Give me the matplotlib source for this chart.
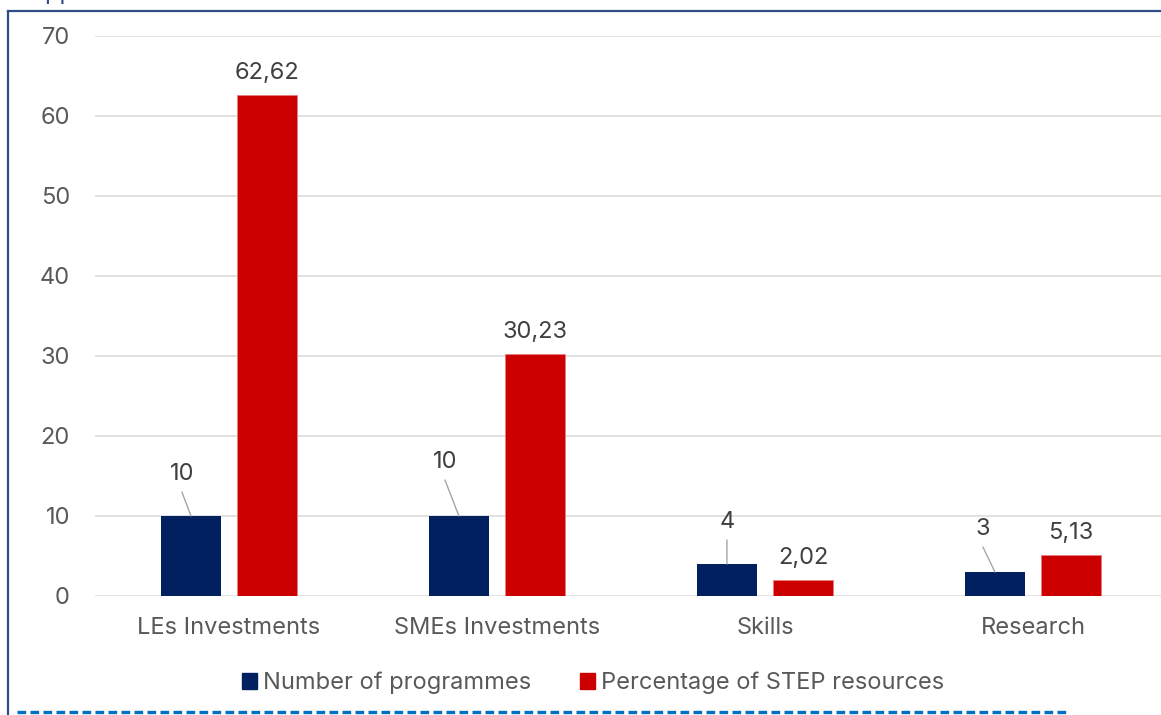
import matplotlib.pyplot as plt
import numpy as np
from matplotlib.patches import Rectangle
from matplotlib.lines import Line2D

# dati
categories = ["LEs Investments", "SMEs Investments", "Skills", "Research"]
programmes = [10, 10, 4, 3]
step_share = [62.62, 30.23, 2.02, 5.13]
series_names = ["Number of programmes", "Percentage of STEP resources"]

navy = "#002060"
red = "#CC0000"
grey_txt = "#595959"

plt.rcParams['font.family'] = ['Inter', 'DejaVu Sans']
fs = 17

fig = plt.figure(figsize=(11.61, 7.15), dpi=100)
W, H = 1161, 715
ax = fig.add_axes([95 / W, (H - 596) / H, 1072 / W, 560 / H])

x = np.arange(len(categories))
bw = 0.224
off = 0.142
b1 = ax.bar(x - off, programmes, bw, color=navy, zorder=3)
b2 = ax.bar(x + off, step_share, bw, color=red, edgecolor="#E88080", linewidth=0.6, zorder=3)

ax.set_xlim(-0.5, 3.5)
ax.set_ylim(0, 70)
ax.set_yticks(range(0, 71, 10))
ax.set_xticks(x)
ax.set_xticklabels(categories)
ax.tick_params(axis='both', length=0, labelsize=fs, labelcolor=grey_txt)
ax.tick_params(axis='y', pad=18)
ax.tick_params(axis='x', pad=15)
ax.grid(axis='y', color="#D9D9D9", linewidth=1.1, zorder=0)
for s in ax.spines.values():
    s.set_visible(False)
ax.set_axisbelow(True)

px = 72 / 100  # pixel -> punti

# etichette serie blu con linee guida
lab_off = [(-9, 31), (-14, 43), (0, 31), (-12, 32)]
for i, v in enumerate(programmes):
    dx, dy = lab_off[i]
    ax.annotate(str(v), (x[i] - off, v), xytext=(dx * px, dy * px), textcoords='offset points',
                ha='center', va='bottom', fontsize=fs, color="#404040", zorder=5)
    ax.annotate("", (x[i] - off, v), xytext=(dx * px, (dy - 7) * px), textcoords='offset points',
                arrowprops=dict(arrowstyle='-', color="#A6A6A6", lw=1.0, shrinkA=0, shrinkB=0))

# etichette serie rossa
for i, v in enumerate(step_share):
    ax.annotate(f"{v:.2f}".replace(".", ","), (x[i] + off, v), xytext=(0, 11 * px),
                textcoords='offset points', ha='center', va='bottom', fontsize=fs,
                color="#404040", zorder=5)

# legenda
handles = [Rectangle((0, 0), 1, 1, color=navy), Rectangle((0, 0), 1, 1, color=red)]
fig.legend(handles, series_names, loc='center', bbox_to_anchor=(593 / W, (H - 683) / H),
           ncol=2, frameon=False, fontsize=fs, labelcolor=grey_txt,
           handlelength=0.62, handleheight=0.62, handletextpad=0.25, columnspacing=2.1)

# cornice e linea tratteggiata
fig.add_artist(Line2D([8 / W, 8 / W], [0, (H - 11) / H], color="#2F4C86", lw=1.6))
fig.add_artist(Line2D([8 / W, 1.0], [(H - 11) / H, (H - 11) / H], color="#2F4C86", lw=1.6))
fig.add_artist(Line2D([17 / W, 1067 / W], [(H - 712) / H, (H - 712) / H], color="#0070C0",
                      lw=2.4, linestyle=(0, (2.6, 1.3))))

# testo tagliato in alto
fig.text(17 / W, 1.002, "Support", fontsize=fs, color="#2F4C86", va='baseline', ha='left')

fig.savefig("out.png", dpi=100)
